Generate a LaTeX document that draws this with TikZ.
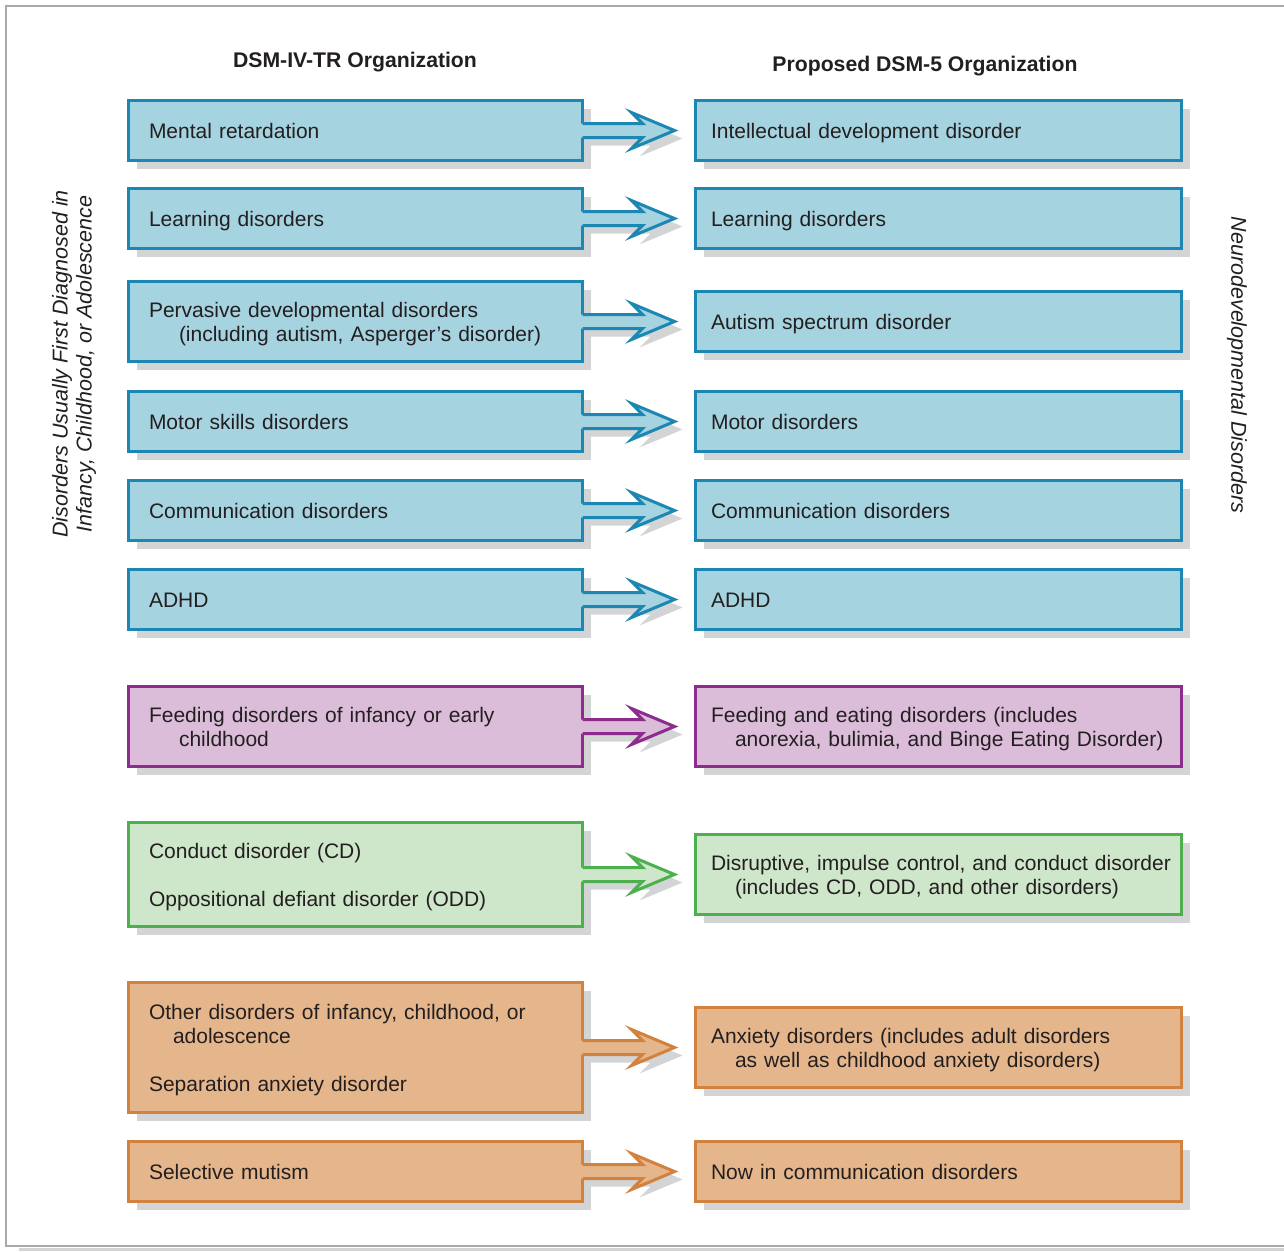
\documentclass[tikz,border=0pt]{standalone}
\usepackage{fontspec}
\setmainfont{Liberation Sans}
\usetikzlibrary{calc,shadows}

\definecolor{shadowc}{RGB}{211,212,214}
\definecolor{framec}{RGB}{168,168,170}
\definecolor{txt}{RGB}{35,31,32}
\definecolor{bluefill}{RGB}{165,211,224}
\definecolor{blueline}{RGB}{27,135,178}
\definecolor{purpfill}{RGB}{219,189,217}
\definecolor{purpline}{RGB}{141,43,142}
\definecolor{greenfill}{RGB}{206,230,201}
\definecolor{greenline}{RGB}{77,176,78}
\definecolor{orfill}{RGB}{229,182,139}
\definecolor{orline}{RGB}{210,130,63}

% line strut: 19.5pt above and 4.5pt below the baseline
\newcommand\ts{\rule[-4.5pt]{0pt}{24pt}}
% box text: 21pt, plain spacing, no hyphenation
\newcommand\boxfont{\fontsize{21}{24}\selectfont\frenchspacing
  \hyphenpenalty=10000\relax\exhyphenpenalty=10000\relax}

% Block arrow from the right side of one box towards the next box
\newcommand\linkarrow[4]{%
  \fill[shadowc] ($(#1.east)+(8,1)$) -- ($(#1.east)+(68,1)$) -- ($(#1.east)+(57,-10)$)
    -- ($(#2.west)+(-13,8)$) -- ($(#1.east)+(57,26)$) -- ($(#1.east)+(68,15)$)
    -- ($(#1.east)+(8,15)$) -- cycle;
  \fill[#3] ($(#1.east)+(-1.5,-7)$) -- ($(#1.east)+(60,-7)$) -- ($(#1.east)+(49,-18)$)
    -- ($(#2.west)+(-21,0)$) -- ($(#1.east)+(49,18)$) -- ($(#1.east)+(60,7)$)
    -- ($(#1.east)+(-1.5,7)$) -- cycle;
  \draw[#4, line width=3pt, line join=miter] ($(#1.east)+(0,-7)$) -- ($(#1.east)+(60,-7)$)
    -- ($(#1.east)+(49,-18)$) -- ($(#2.west)+(-21,0)$) -- ($(#1.east)+(49,18)$)
    -- ($(#1.east)+(60,7)$) -- ($(#1.east)+(0,7)$);
}

\tikzset{
  txtfont/.style={font=\boxfont, text=txt},
  box/.style={rectangle, draw, line width=3pt, outer sep=0pt, inner ysep=0pt,
    align=left, txtfont,
    drop shadow={shadow xshift=8pt, shadow yshift=-8pt, fill=shadowc, opacity=1}},
  lbox/.style={box, minimum width=454pt, text width=413pt, inner xsep=20.5pt},
  rbox/.style={box, minimum width=486pt, text width=455pt, inner xsep=15.5pt},
  blue/.style={fill=bluefill, draw=blueline},
  purp/.style={fill=purpfill, draw=purpline},
  grn/.style={fill=greenfill, draw=greenline},
  orng/.style={fill=orfill, draw=orline},
  head/.style={font=\fontsize{21.2}{24}\selectfont\bfseries, text=txt},
  side/.style={font=\fontsize{21.5}{24}\selectfont\itshape, text=txt, align=center, inner sep=0pt}
}

\begin{document}
\begin{tikzpicture}[x=1pt,y=-1pt]
\useasboundingbox (0,0) rectangle (1284,1251);
\fill[white] (0,0) rectangle (1284,1251);

% outer frame
\fill[shadowc] (19,1248) rectangle (1284,1251);
\draw[framec, line width=2pt] (1284,6) -- (6,6) -- (6,1246) -- (1284,1246);

% column headings
\node[head] (hl) at (355,62) {DSM-IV-TR Organization};
\node[head] (hr) at (925,66) {Proposed DSM-5 Organization};

% group labels
\node[side, rotate=90] (gl) at (74,364) {Disorders Usually First Diagnosed in\\Infancy, Childhood, or Adolescence};
\node[side, rotate=-90] (gr) at (1237,365) {Neurodevelopmental Disorders};

% row 1
\node[lbox, blue, minimum height=60pt] (L1) at (355.5,130.5) {\ts Mental retardation\ts};
\node[rbox, blue, minimum height=60pt] (R1) at (938.5,130.5) {\ts Intellectual development disorder\ts};
\linkarrow{L1}{R1}{bluefill}{blueline}

% row 2
\node[lbox, blue, minimum height=60pt] (L2) at (355.5,218.5) {\ts Learning disorders\ts};
\node[rbox, blue, minimum height=60pt] (R2) at (938.5,218.5) {\ts Learning disorders\ts};
\linkarrow{L2}{R2}{bluefill}{blueline}

% row 3
\node[lbox, blue, minimum height=80pt] (L3) at (355.5,321.5) {\ts Pervasive developmental disorders\\\hspace*{30pt}(including autism, Asperger’s disorder)\ts};
\node[rbox, blue, minimum height=60pt] (R3) at (938.5,321.5) {\ts Autism spectrum disorder\ts};
\linkarrow{L3}{R3}{bluefill}{blueline}

% row 4
\node[lbox, blue, minimum height=60pt] (L4) at (355.5,421.5) {\ts Motor skills disorders\ts};
\node[rbox, blue, minimum height=60pt] (R4) at (938.5,421.5) {\ts Motor disorders\ts};
\linkarrow{L4}{R4}{bluefill}{blueline}

% row 5
\node[lbox, blue, minimum height=60pt] (L5) at (355.5,510.5) {\ts Communication disorders\ts};
\node[rbox, blue, minimum height=60pt] (R5) at (938.5,510.5) {\ts Communication disorders\ts};
\linkarrow{L5}{R5}{bluefill}{blueline}

% row 6
\node[lbox, blue, minimum height=60pt] (L6) at (355.5,599.5) {\ts ADHD\ts};
\node[rbox, blue, minimum height=60pt] (R6) at (938.5,599.5) {\ts ADHD\ts};
\linkarrow{L6}{R6}{bluefill}{blueline}

% row 7
\node[lbox, purp, minimum height=80pt] (L7) at (355.5,726.5) {\ts Feeding disorders of infancy or early\\\hspace*{30pt}childhood\ts};
\node[rbox, purp, minimum height=80pt] (R7) at (938.5,726.5) {\ts Feeding and eating disorders (includes\\\hspace*{24pt}anorexia, bulimia, and Binge Eating Disorder)\ts};
\linkarrow{L7}{R7}{purpfill}{purpline}

% row 8
\node[lbox, grn, minimum height=104pt] (L8) at (355.5,874.5) {\ts Conduct disorder (CD)\\[24pt]Oppositional defiant disorder (ODD)\ts};
\node[rbox, grn, minimum height=80pt] (R8) at (938.5,874.5) {\ts\mbox{Disruptive, impulse control, and conduct disorder}\\\hspace*{24pt}(includes CD, ODD, and other disorders)\ts};
\linkarrow{L8}{R8}{greenfill}{greenline}

% row 9
\node[lbox, orng, minimum height=130pt] (L9) at (355.5,1047.5) {\ts Other disorders of infancy, childhood, or\\\hspace*{24pt}adolescence\\[24pt]Separation anxiety disorder\ts};
\node[rbox, orng, minimum height=80pt] (R9) at (938.5,1047.5) {\ts Anxiety disorders (includes adult disorders\\\hspace*{24pt}as well as childhood anxiety disorders)\ts};
\linkarrow{L9}{R9}{orfill}{orline}

% row 10
\node[lbox, orng, minimum height=60pt] (L10) at (355.5,1171.5) {\ts Selective mutism\ts};
\node[rbox, orng, minimum height=60pt] (R10) at (938.5,1171.5) {\ts Now in communication disorders\ts};
\linkarrow{L10}{R10}{orfill}{orline}
\end{tikzpicture}
\end{document}
